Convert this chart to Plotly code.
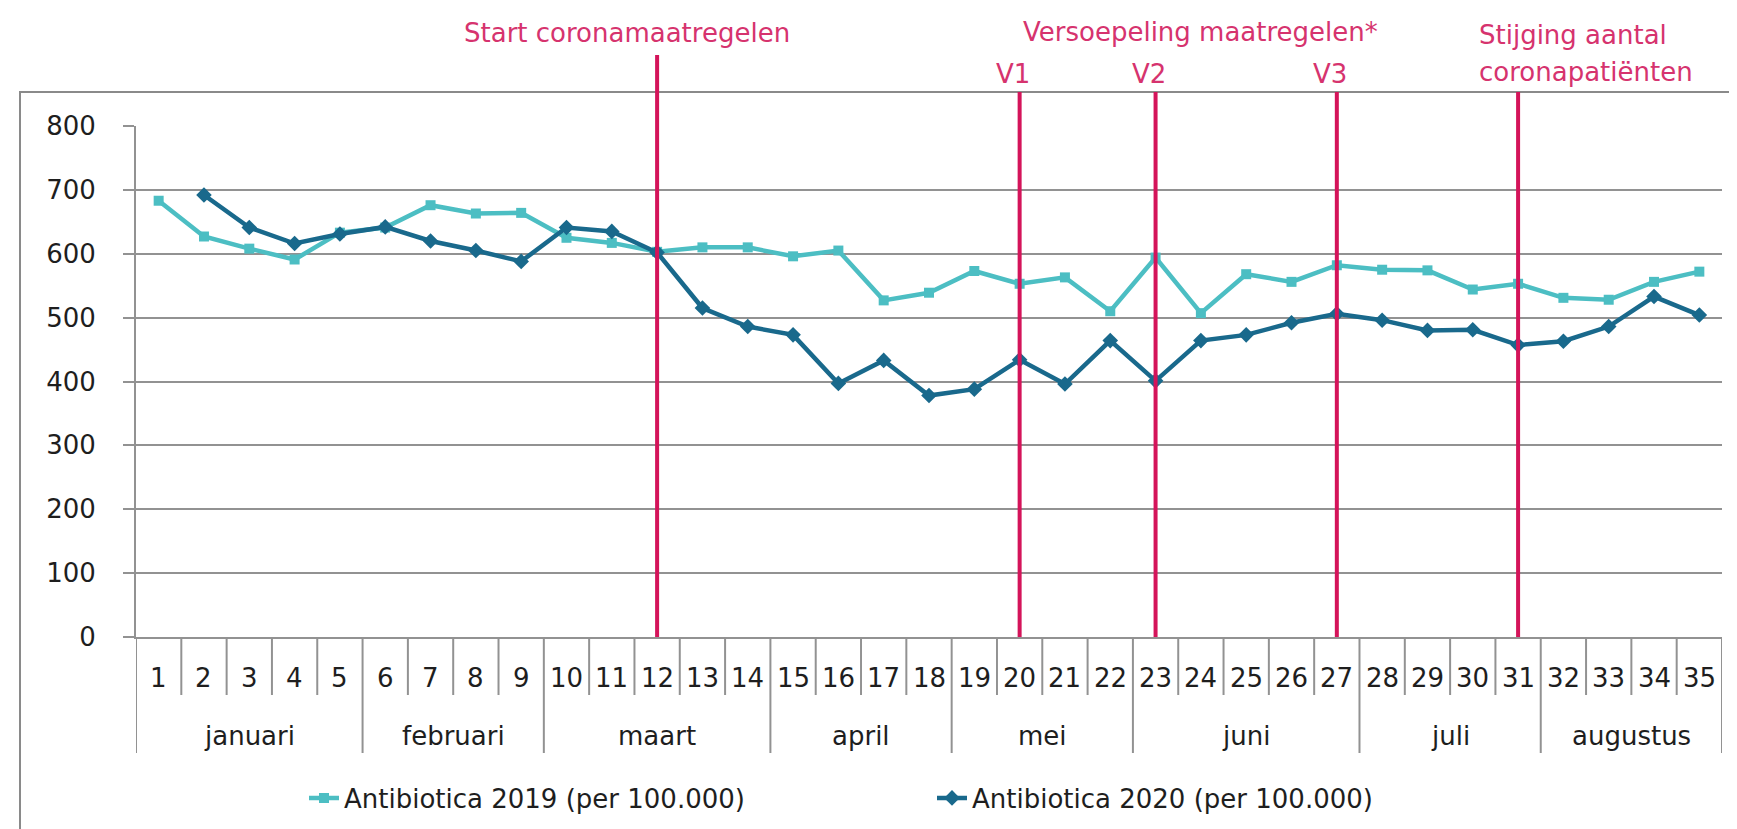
import plotly.graph_objects as go

# ---- data ----
weeks = list(range(1, 36))
months = ["januari", "februari", "maart", "april", "mei", "juni", "juli", "augustus"]
month_week_counts = [5, 4, 5, 4, 4, 5, 4, 4]
abx_2019 = [683, 627, 608, 591, 633, 641, 676, 663, 664, 625, 617, 603, 610, 610, 596,
            605, 527, 539, 573, 553, 563, 510, 594, 507, 568, 556, 582, 575, 574, 544,
            553, 531, 528, 556, 572]
abx_2020 = [None, 692, 641, 616, 631, 642, 620, 605, 588, 641, 635, 602, 515, 486, 473,
            397, 433, 378, 388, 434, 396, 464, 401, 464, 473, 492, 506, 496, 480, 481,
            457, 463, 486, 533, 504]
event_weeks = [12, 20, 23, 27, 31]
event_labels = ["", "V1", "V2", "V3", ""]
y_ticks = [0, 100, 200, 300, 400, 500, 600, 700, 800]

# ---- style ----
FONT = "DejaVu Sans"
FS = 26
TXT = "#1e1e1e"
RED_LINE = "#d4145a"
RED_TXT = "#d6336e"
LIGHT = "#4cbec3"
DARK = "#19698c"
GRID = "#929292"

W, H = 1737, 829
L, R, T, B = 128, 23, 118, 200
pw, ph = W - L - R, H - T - B

def py(pix):  # pixel y -> paper y
    return (H - B - pix) / ph

def px(pix):  # pixel x -> paper x
    return (pix - L) / pw

fig = go.Figure()
fig.add_trace(go.Scatter(
    x=weeks, y=abx_2019, mode="lines+markers", name="Antibiotica 2019 (per 100.000)",
    line=dict(color=LIGHT, width=4.5), marker=dict(symbol="square", size=10, color=LIGHT)))
fig.add_trace(go.Scatter(
    x=weeks, y=abx_2020, mode="lines+markers", name="Antibiotica 2020 (per 100.000)",
    line=dict(color=DARK, width=4.5), marker=dict(symbol="diamond", size=12, color=DARK)))

shapes = []
annotations = []

# outer frame
shapes.append(dict(type="rect", xref="paper", yref="paper",
                   x0=px(12), x1=px(W + 20), y0=py(H + 20), y1=py(84),
                   line=dict(color="#8a8a8a", width=2), fillcolor="rgba(0,0,0,0)", layer="below"))

# week separators and labels
month_bounds = [0]
for c in month_week_counts:
    month_bounds.append(month_bounds[-1] + c)
for b in range(0, len(weeks) + 1):
    is_month = b in month_bounds
    shapes.append(dict(type="line", xref="x", yref="paper", x0=b + 0.5, x1=b + 0.5,
                       y0=0, y1=py(745 if is_month else 687),
                       line=dict(color=GRID, width=2)))
for w in weeks:
    annotations.append(dict(x=w, y=py(670), xref="x", yref="paper", text=str(w),
                            yanchor="middle", showarrow=False,
                            font=dict(family=FONT, size=FS, color=TXT)))
for i, m in enumerate(months):
    mid = (month_bounds[i] + 1 + month_bounds[i + 1]) / 2
    annotations.append(dict(x=mid, y=py(728), xref="x", yref="paper", text=m,
                            yanchor="middle", showarrow=False,
                            font=dict(family=FONT, size=FS, color=TXT)))

# event lines
for k, ew in enumerate(event_weeks):
    top = 47 if k == 0 else 84
    shapes.append(dict(type="line", xref="x", yref="paper", x0=ew, x1=ew,
                       y0=0, y1=py(top), line=dict(color=RED_LINE, width=4)))
    if event_labels[k]:
        annotations.append(dict(x=ew, y=py(66), xref="x", yref="paper", text=event_labels[k],
                                xshift=-7, yanchor="middle", showarrow=False,
                                font=dict(family=FONT, size=FS, color=RED_TXT)))

annotations.append(dict(x=event_weeks[0], y=py(25), xref="x", yref="paper",
                        text="Start coronamaatregelen", xshift=-30, yanchor="middle",
                        showarrow=False, font=dict(family=FONT, size=FS, color=RED_TXT)))
annotations.append(dict(x=24, y=py(24), xref="x", yref="paper",
                        text="Versoepeling maatregelen*", yanchor="middle", showarrow=False,
                        font=dict(family=FONT, size=FS, color=RED_TXT)))
annotations.append(dict(x=event_weeks[4], y=py(27), xref="x", yref="paper",
                        text="Stijging aantal", xanchor="left", xshift=-41, yanchor="middle",
                        showarrow=False, font=dict(family=FONT, size=FS, color=RED_TXT)))
annotations.append(dict(x=event_weeks[4], y=py(64), xref="x", yref="paper",
                        text="coronapatiënten", xanchor="left", xshift=-41, yanchor="middle",
                        showarrow=False, font=dict(family=FONT, size=FS, color=RED_TXT)))

fig.update_layout(
    width=W, height=H, autosize=False,
    margin=dict(l=L, r=R, t=T, b=B),
    paper_bgcolor="white", plot_bgcolor="white",
    font=dict(family=FONT, size=FS, color=TXT),
    shapes=shapes, annotations=annotations,
    showlegend=True,
    legend=dict(orientation="h", x=px(296), xanchor="left", y=py(790), yanchor="middle",
                font=dict(family=FONT, size=FS, color=TXT), bgcolor="rgba(0,0,0,0)",
                entrywidth=583, entrywidthmode="pixels"),
)
fig.update_xaxes(range=[0.5, len(weeks) + 0.5], showticklabels=False, showgrid=False,
                 zeroline=False, showline=True, linecolor=GRID, linewidth=2, ticks="")
fig.update_yaxes(range=[0, 800], tickvals=y_ticks, showgrid=True, gridcolor=GRID, gridwidth=2,
                 zeroline=False, showline=True, linecolor=GRID, linewidth=2,
                 ticks="outside", ticklen=11, tickcolor=GRID, tickwidth=2,
                 ticklabelstandoff=22, tickfont=dict(family=FONT, size=FS, color=TXT))

fig.write_html("out.html")
